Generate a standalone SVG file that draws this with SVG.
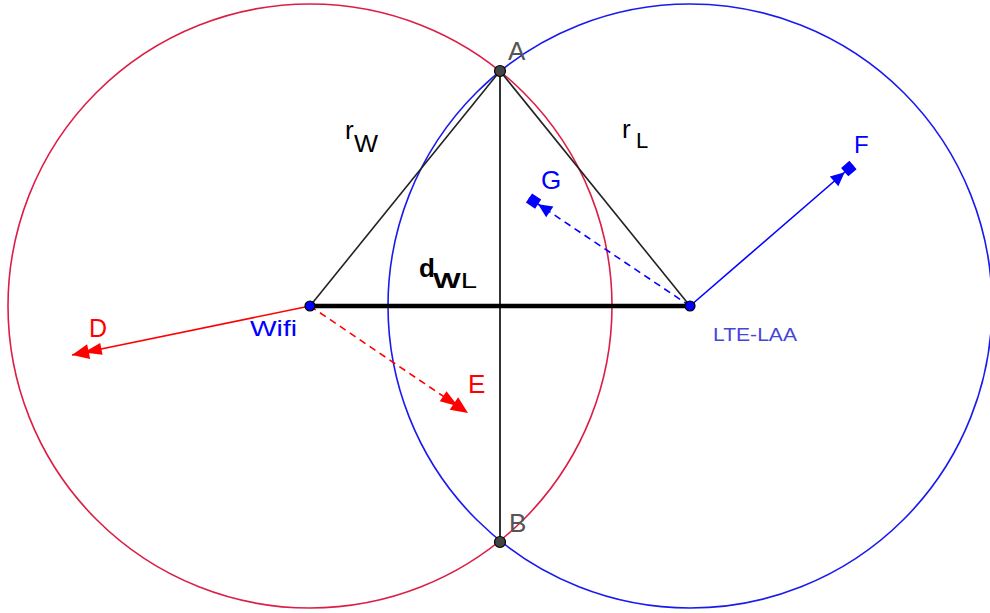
<svg xmlns="http://www.w3.org/2000/svg" width="990" height="613" viewBox="0 0 990 613">
<style>
.lbl{font-family:"Liberation Sans",Arial,sans-serif;}
.circ{fill:none;stroke-width:1.6;}
.tri{stroke:#222;stroke-width:1.6;fill:none;}
</style>
<defs>
<marker id="dblR" markerUnits="userSpaceOnUse" markerWidth="40" markerHeight="20" viewBox="-34 -10 40 20" refX="0" refY="0" orient="auto" overflow="visible">
<path d="M0,0 L-17,-7.5 L-17,7.5 Z M-12,0 L-30,-6 L-30,6 Z" fill="#ff0000" stroke="none"/>
</marker>
<marker id="sqB" markerUnits="userSpaceOnUse" markerWidth="40" markerHeight="20" viewBox="-30 -10 40 20" refX="0" refY="0" orient="auto" overflow="visible">
<path d="M0,-5.5 L0,5.5 L-11,5.5 L-11,-5.5 Z M-11,0 L-25,-6.5 L-25,6.5 Z" fill="#0000ff" stroke="none"/>
</marker>
</defs>
<rect width="990" height="613" fill="#ffffff"/>
<g id="circles">
<circle id="circleWifi" class="circ" cx="310" cy="306" r="302" stroke="#dc1e46"/>
<circle id="circleLTE" class="circ" cx="690" cy="306" r="302" stroke="#1a1aee"/>
</g>
<g id="connectors">
<line x1="310" y1="306" x2="500" y2="71" class="tri"/>
<line x1="690" y1="306" x2="500" y2="71" class="tri"/>
<line x1="500" y1="71" x2="500" y2="542" stroke="#333" stroke-width="2"/>
<line x1="310" y1="306" x2="690" y2="306" stroke="#000" stroke-width="4.5"/>
<path d="M310,306 L72,355" stroke="#ff0000" stroke-width="1.6" fill="none" marker-end="url(#dblR)"/>
<path d="M310,306 L468,413" stroke="#ff0000" stroke-width="1.6" fill="none" stroke-dasharray="7,5" marker-end="url(#dblR)"/>
<path d="M690,306 L853,165" stroke="#0000ff" stroke-width="1.6" fill="none" marker-end="url(#sqB)"/>
<path d="M690,306 L529,198" stroke="#0000ff" stroke-width="1.6" fill="none" stroke-dasharray="7,5" marker-end="url(#sqB)"/>
</g>
<g id="A">
<circle cx="500" cy="71" r="5.5" fill="#444" stroke="#000" stroke-width="1.2"/>
<text class="lbl" x="508" y="60" font-size="26" fill="#555">A</text>
</g>
<g id="B">
<circle cx="500" cy="542" r="5.5" fill="#444" stroke="#000" stroke-width="1.2"/>
<text class="lbl" x="509" y="532" font-size="26" fill="#555">B</text>
</g>
<g id="Wifi">
<circle cx="310" cy="306" r="5" fill="#0000ff" stroke="#000" stroke-width="1.2"/>
<text class="lbl" x="250" y="336" font-size="22" fill="#0000ff" textLength="47" lengthAdjust="spacingAndGlyphs">Wifi</text>
</g>
<g id="LTE-LAA">
<circle cx="690" cy="306" r="5" fill="#0000ff" stroke="#000" stroke-width="1.2"/>
<text class="lbl" x="713" y="341" font-size="18" fill="#4545d8" textLength="84" lengthAdjust="spacingAndGlyphs">LTE-LAA</text>
</g>
<g id="rW">
<text class="lbl" x="345" y="139" font-size="26" fill="#000">r</text>
<text class="lbl" x="354" y="152" font-size="24" fill="#000" textLength="24" lengthAdjust="spacingAndGlyphs">W</text>
</g>
<g id="rL">
<text class="lbl" x="622" y="138" font-size="26" fill="#000">r</text>
<text class="lbl" x="636" y="148" font-size="22" fill="#000">L</text>
</g>
<g id="dWL">
<text class="lbl" x="419" y="277" font-size="26" font-weight="bold" fill="#000">d</text>
<text class="lbl" x="433" y="288" font-size="22" font-weight="bold" fill="#000" textLength="44" lengthAdjust="spacingAndGlyphs">W<tspan font-weight="normal">L</tspan></text>
</g>
<g id="D"><text class="lbl" x="89" y="337" font-size="25" fill="#ff0000">D</text></g>
<g id="E"><text class="lbl" x="468" y="393" font-size="26" fill="#ff0000">E</text></g>
<g id="F"><text class="lbl" x="854" y="153" font-size="24" fill="#0000ff">F</text></g>
<g id="G"><text class="lbl" x="541" y="189" font-size="26" fill="#0000ff">G</text></g>
</svg>
